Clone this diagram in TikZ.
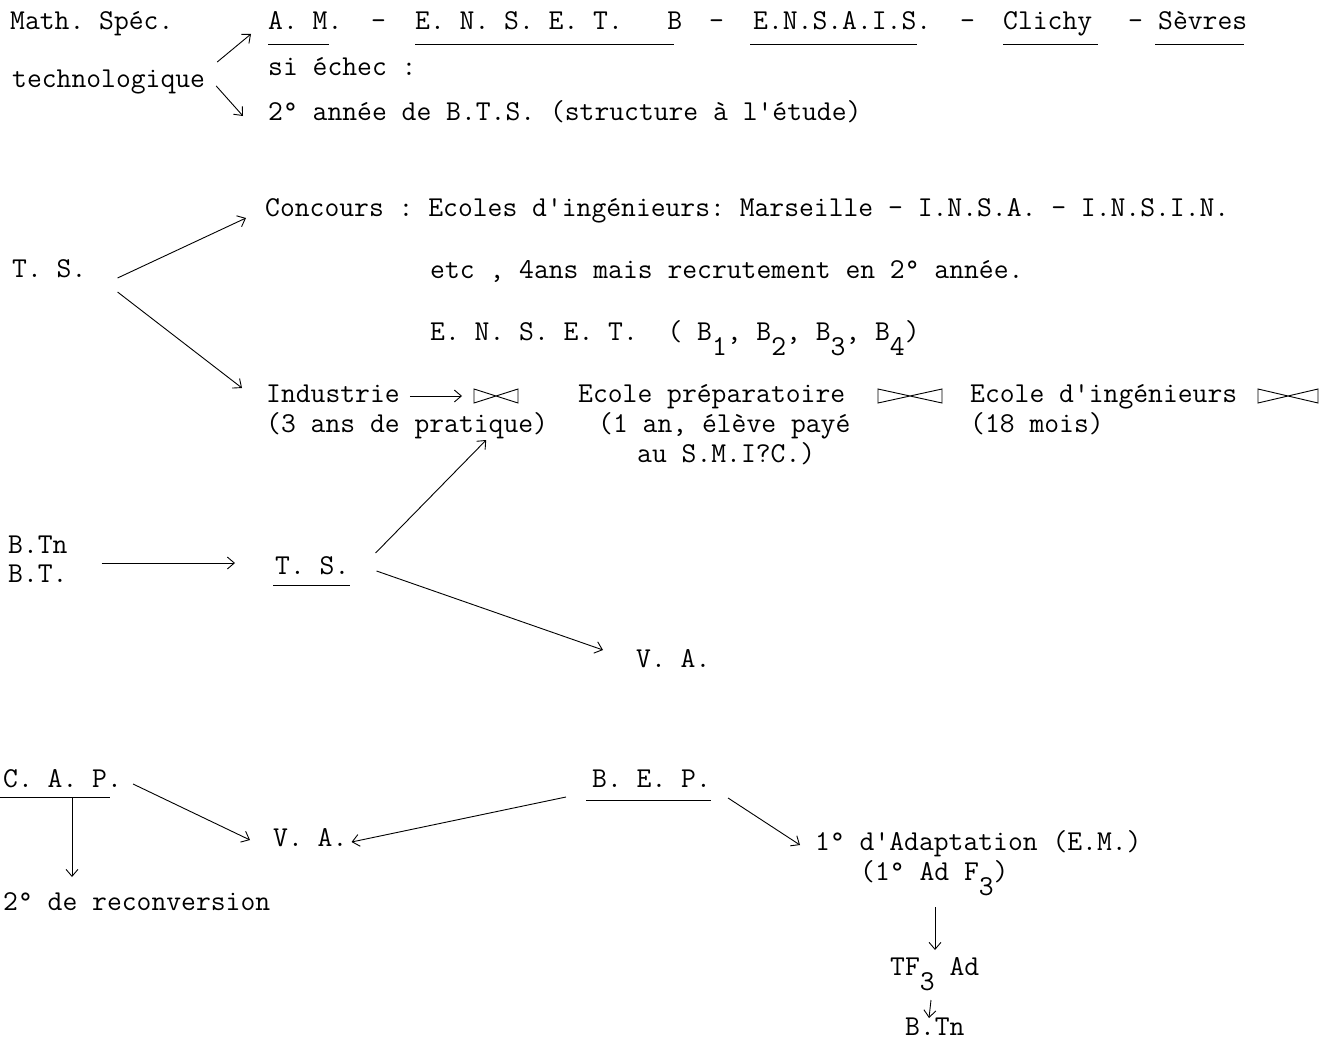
\documentclass[tikz,border=0pt]{standalone}
\usepackage{fontspec}
\usetikzlibrary{arrows.meta}
\newcommand\dn[1]{\raisebox{-15pt}{#1}}
\begin{document}
\frenchspacing
\begin{tikzpicture}[
    x=1pt, y=-1pt,
    txt/.style={anchor=base west, inner sep=0pt, font=\ttfamily\fontsize{28.8}{30}\selectfont},
    arr/.style={-{Straight Barb[length=7pt,width=12pt]}, line width=0.9pt},
    uline/.style={line width=1pt},
    valve/.pic={
        \draw[line width=0.9pt] (-1,-7) -- (1,7) -- (1,-7) -- (-1,7) -- cycle;
        \coordinate (-w) at (-1,0);
        \coordinate (-e) at (1,0);}
]
\useasboundingbox (0,0) rectangle (1336,1041);
% Math. Spec. technologique
\node[txt] (maths)  at (10,30)   {Math. Spéc.};
\node[txt] (techno) at (12,88)   {technologique};
\node[txt] (am)     at (268,30)  {A. M.};
\node[txt] (sepa)   at (371,30)  {-};
\node[txt] (enset)  at (415,30)  {E. N. S. E. T.\ \ \ B};
\node[txt] (sepb)   at (709,30)  {-};
\node[txt] (ensais) at (753,30)  {E.N.S.A.I.S.};
\node[txt] (sepc)   at (960,30)  {-};
\node[txt] (clichy) at (1003,30) {Clichy};
\node[txt] (sepd)   at (1128,30) {-};
\node[txt] (sevres) at (1158,30) {Sèvres};
\node[txt] (echec)  at (268,75)  {si échec :};
\node[txt] (bts)    at (268,120) {2° année de B.T.S. (structure à l'étude)};
\draw[uline] ([shift={(0,15)}]am.base west)     -- ([shift={(-14,15)}]am.base east);
\draw[uline] ([shift={(0,15)}]enset.base west)  -- ([shift={(-8,15)}]enset.base east);
\draw[uline] ([shift={(-3,15)}]ensais.base west) -- ([shift={(-14,15)}]ensais.base east);
\draw[uline] ([shift={(0,15)}]clichy.base west) -- ([shift={(6,15)}]clichy.base east);
\draw[uline] ([shift={(-3,15)}]sevres.base west) -- ([shift={(-3,15)}]sevres.base east);
\draw[arr] ([shift={(12,-26)}]techno.base east) -- ([shift={(-17,4)}]am.base west);
\draw[arr] ([shift={(11,-2)}]techno.base east)  -- ([shift={(-25,-4)}]bts.base west);
% T. S.
\node[txt] (tsa)      at (12,277)  {T. S.};
\node[txt] (concours) at (265,216) {Concours : Ecoles d'ingénieurs: Marseille - I.N.S.A. - I.N.S.I.N.};
\node[txt] (etc)      at (430,278) {etc , 4ans mais recrutement en 2° année.};
\node[txt] (ensetb)   at (430,340) {E. N. S. E. T.\ \ (\ B\dn{1}, B\dn{2}, B\dn{3}, B\dn{4})};
\node[txt] (indus)    at (266,402) {Industrie};
\node[txt] (pratique) at (266,432) {(3 ans de pratique)};
\pic[xscale=22] (bowa) at (496,396) {valve};
\node[txt] (prepa)    at (578,402) {Ecole préparatoire};
\node[txt] (paye)     at (598,432) {(1 an, élève payé};
\node[txt] (smic)     at (637,462) {au S.M.I?C.)};
\pic[xscale=32] (bowb) at (910,396) {valve};
\node[txt] (ingen)    at (970,402) {Ecole d'ingénieurs};
\node[txt] (mois)     at (970,432) {(18 mois)};
\pic[xscale=30] (bowc) at (1288,396) {valve};
\draw[arr] ([shift={(31,1)}]tsa.base east)  -- ([shift={(-19,2)}]concours.base west);
\draw[arr] ([shift={(31,15)}]tsa.base east) -- ([shift={(-24,-14)}]indus.base west);
\draw[arr] ([shift={(10,-6)}]indus.base east) -- ([shift={(-12,0)}]bowa-w);
% B.Tn / B.T.
\node[txt] (btn) at (8,553) {B.Tn};
\node[txt] (bt)  at (8,582) {B.T.};
\node[txt] (tsb) at (275,574) {T. S.};
\node[txt] (vaa) at (636,667) {V. A.};
\draw[uline] ([shift={(-2,11)}]tsb.base west) -- ([shift={(0,11)}]tsb.base east);
\draw[arr] ([shift={(34,10)}]btn.base east)   -- ([shift={(-40,-11)}]tsb.base west);
\draw[arr] ([shift={(26,-21)}]tsb.base east)  -- ([shift={(-62,8)}]pratique.base east);
\draw[arr] ([shift={(27,-3)}]tsb.base east)   -- ([shift={(-33,-17)}]vaa.base west);
% C. A. P. / B. E. P.
\node[txt] (cap)   at (3,787)   {C. A. P.};
\node[txt] (recon) at (3,910)   {2° de reconversion};
\node[txt] (vab)   at (273,846) {V. A.};
\node[txt] (bep)   at (592,787) {B. E. P.};
\node[txt] (adapt) at (815,850) {1° d'Adaptation (E.M.)};
\node[txt] (adf)   at (860,880) {(1° Ad F\dn{3})};
\node[txt] (tfad)  at (890,975) {TF\dn{3} Ad};
\node[txt] (btnb)  at (905,1035) {B.Tn};
\draw[uline] ([shift={(-3,10)}]cap.base west) -- ([shift={(-12,10)}]cap.base east);
\draw[uline] ([shift={(-6,13)}]bep.base west) -- ([shift={(0,13)}]bep.base east);
\draw[arr] ([shift={(69,11)}]cap.base west)   -- ([shift={(69,-33)}]recon.base west);
\draw[arr] ([shift={(11,-3)}]cap.base east)   -- ([shift={(-23,-6)}]vab.base west);
\draw[arr] ([shift={(-26,10)}]bep.base west)  -- ([shift={(4,-4)}]vab.base east);
\draw[arr] ([shift={(17,11)}]bep.base east)   -- ([shift={(-15,-5)}]adapt.base west);
\draw[arr] ([shift={(75,27)}]adf.base west)   -- ([shift={(45,-25)}]tfad.base west);
\draw[arr] ([shift={(41,25)}]tfad.base west)  -- ([shift={(24,-17)}]btnb.base west);
\end{tikzpicture}
\end{document}
